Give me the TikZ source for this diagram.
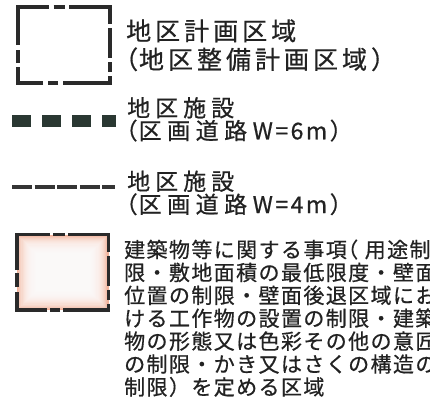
\documentclass[tikz,border=0pt]{standalone}
\usepackage{fontspec}
\newfontfamily\jp[FakeBold=0.6]{Noto Sans CJK JP}
\makeatletter
\newcommand\spc[2]{\@tfor\spc@c:=#2\do{\spc@c\kern#1}}
\makeatother
\definecolor{ink}{HTML}{222222}
\definecolor{frame}{HTML}{2A2A2A}
\definecolor{roadA}{HTML}{2A3832}
\definecolor{roadB}{HTML}{353535}
\definecolor{peach}{HTML}{F2B39B}
\begin{document}
\begin{tikzpicture}[x=1pt,y=-1pt,
  txt/.style={anchor=base west, inner sep=0pt, text=ink},
  fA/.style={font=\jp\fontsize{25}{25}\selectfont},
  fB/.style={font=\jp\fontsize{23}{23}\selectfont},
  fC/.style={font=\jp\fontsize{21}{21}\selectfont},
  border/.style={draw=frame, line width=3.5pt, line cap=butt, line join=miter}]
\useasboundingbox (0,0) rectangle (430,405);
\fill[white] (0,0) rectangle (430,405);

% --- symbol 1: district plan area
\draw[border, dash pattern=on 16pt off 4.5pt on 11pt off 4.5pt on 58pt off 4pt on 30pt off 4pt on 10pt off 4pt on 54pt off 5pt on 10pt off 5pt on 41pt off 4pt on 13pt off 5pt on 53pt]
  (33,7) -- (110,7) -- (110,83) -- (18,83) -- (18,7) -- (33,7);

\node[txt, fA] (t1a) at (126,40.3) {\spc{4pt}{地区計画区域}};
\node[txt, fA] (t1b) at (113,68.8) {（\kern0.8pt\spc{4pt}{地区整備計画区域}）};

% --- symbol 2: road W=6m
\draw[roadA, line width=11.5pt, dash pattern=on 19pt off 11pt] (12,121) -- (116,121);
\node[txt, fB] (t2a) at (127,116.5) {\spc{5pt}{地区施設}};
\node[txt, fB] (t2b) at (114.5,139.3) {（\kern1pt\spc{5.5pt}{区画道路}\spc{2.5pt}{W=6m}）};

% --- symbol 3: road W=4m
\draw[roadB, line width=4pt, dash pattern=on 20pt off 2.6pt] (12,186.5) -- (115,186.5);
\node[txt, fB] (t3a) at (127,190) {\spc{5pt}{地区施設}};
\node[txt, fB] (t3b) at (114.5,213) {（\kern1pt\spc{5.5pt}{区画道路}\spc{2.5pt}{W=4m}）};

% --- symbol 4: building regulation area
\fill[peach] (17,234.5) rectangle (108.5,310);
\foreach \i in {1,...,17} {
  \fill[white, opacity=0.17] (17+\i*1.1,234.5+\i*1.1) rectangle (108.5-\i*1.1,310-\i*1.1);
}
\draw[border, dash pattern=on 20pt off 3pt on 12pt off 3pt on 57.5pt off 4pt on 30pt off 4pt on 10pt off 4pt on 52pt off 3pt on 10pt off 3pt on 48pt off 5pt on 14pt off 3pt on 48.5pt]
  (30,234.5) -- (108.5,234.5) -- (108.5,310) -- (17,310) -- (17,234.5) -- (30,234.5);

\begin{scope}
\clip (0,0) rectangle (430,405);
\node[txt, fC] (t4a) at (124,257.5) {\spc{1.4pt}{建築物等に関する事項{\kern-11pt（\kern5.2pt}用途制}};
\node[txt, fC] (t4b) at (124,280.4) {\spc{1.4pt}{限・敷地面積の最低限度・壁面}};
\node[txt, fC] (t4c) at (124,303.3) {\spc{1.4pt}{位置の制限・壁面後退区域にお}};
\node[txt, fC] (t4d) at (124,326.2) {\spc{1.4pt}{ける工作物の設置の制限・建築}};
\node[txt, fC] (t4e) at (124,349.1) {\spc{1.4pt}{物の形態又は色彩その他の意匠}};
\node[txt, fC] (t4f) at (124,372.0) {\spc{1.4pt}{の制限・かき又はさくの構造の}};
\node[txt, fC] (t4g) at (124,394.9) {\spc{1.4pt}{制限）を定める区域}};
\end{scope}
\end{tikzpicture}
\end{document}
